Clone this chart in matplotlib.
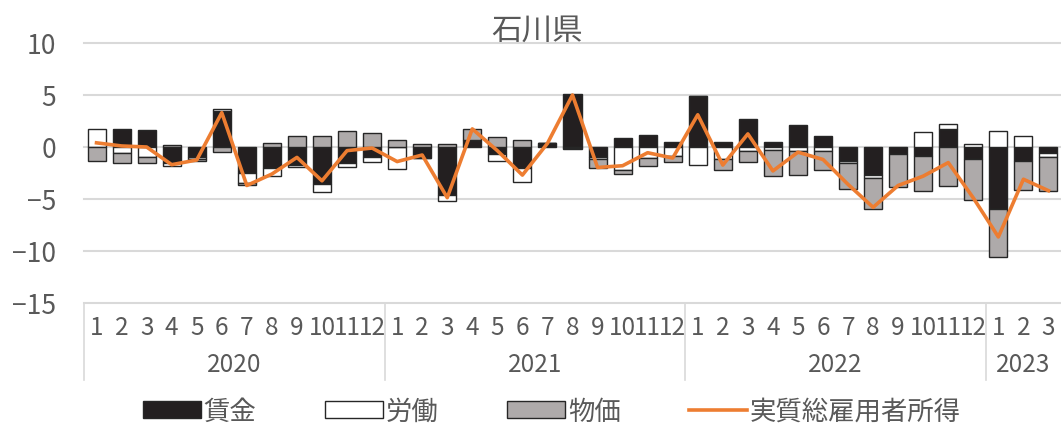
import numpy as np
import matplotlib
matplotlib.use("Agg")
import matplotlib.pyplot as plt
from matplotlib.patches import Patch
from matplotlib.lines import Line2D

plt.rcParams['font.family'] = ['Liberation Sans Narrow', 'Noto Sans CJK JP', 'DejaVu Sans']

# 寄与度（前年同月比、%ポイント）
years = ['2020', '2021', '2022', '2023']
months_per_year = [12, 12, 12, 3]

wage = [0.0, 1.7, 1.6, -1.5, -1.0, 3.5, -2.5, -2.0, -1.75, -3.6, -1.5, -0.95,
        0.0, -1.05, -4.6, 0.7, -0.68, -2.06, 0.4, 5.1, -1.0, 0.84, 1.2, 0.45,
        4.9, 0.5, 2.7, 0.45, 2.16, 1.03, -1.3, -2.7, -0.65, -0.85, 1.74, -1.16,
        -5.94, -1.3, -0.6]
labor = [1.7, -0.55, -1.0, -0.3, -0.2, 0.2, -0.95, -0.8, -0.2, -0.75, -0.4, -0.45,
         -2.1, -0.05, -0.55, 0.0, -0.68, -1.3, 0.0, -0.1, -0.2, -2.2, -1.1, -0.84,
         -1.74, -1.16, -0.4, -0.25, -0.35, -0.35, -0.25, -0.3, -0.05, 1.4, 0.48, 0.3,
         1.58, 1.03, -0.35]
price = [-1.3, -1.0, -0.55, 0.15, -0.1, -0.5, -0.2, 0.4, 1.03, 1.1, 1.5, 1.35,
         0.7, 0.3, 0.3, 1.05, 1.0, 0.7, 0.0, -0.05, -0.85, -0.35, -0.7, -0.65,
         0.0, -1.06, -1.0, -2.5, -2.35, -1.87, -2.5, -3.0, -3.1, -3.4, -3.74, -3.9,
         -4.65, -2.84, -3.3]
real_income = [0.4, 0.1, 0.0, -1.7, -1.25, 3.3, -3.7, -2.6, -1.0, -3.25, -0.35, -0.1,
               -1.4, -0.77, -4.87, 1.74, -0.35, -2.7, 0.35, 5.0, -1.97, -1.8, -0.55, -1.06,
               3.1, -1.74, 1.26, -2.3, -0.5, -1.2, -3.6, -5.8, -3.7, -2.8, -1.5, -4.9,
               -8.65, -3.1, -4.2]

month_labels = [str(m) for n in months_per_year for m in range(1, n + 1)]

text_gray = '#595959'
grid_gray = '#d9d9d9'
edge = '#262626'

fig = plt.figure(figsize=(10.61, 4.35), dpi=100)
ax = fig.add_axes([84 / 1061, 131 / 435, 977 / 1061, 260 / 435])

x = np.arange(len(wage))
ax.set_xlim(-0.5, len(wage) - 0.5)
ax.set_ylim(-15, 10)

# 横の目盛線
for yv in range(-15, 11, 5):
    ax.axhline(yv, color=grid_gray, lw=1.5, zorder=0, clip_on=False)

# 積み上げ棒（正と負は別々に積む）
pos_base = np.zeros(len(x))
neg_base = np.zeros(len(x))
series = [(wage, '#231f20'), (labor, '#ffffff'), (price, '#aeaaaa')]
for vals, color in series:
    v = np.array(vals)
    bottom = np.where(v >= 0, pos_base, neg_base)
    ax.bar(x, v, bottom=bottom, width=0.72, color=color, edgecolor=edge,
           linewidth=1.0, zorder=2)
    pos_base += np.where(v >= 0, v, 0)
    neg_base += np.where(v < 0, v, 0)

ax.plot(x, real_income, color='#ed7d31', lw=2.6, zorder=3)

for s in ax.spines.values():
    s.set_visible(False)

ax.set_yticks(range(-15, 11, 5))
ax.tick_params(axis='y', length=0, pad=20, labelsize=19, labelcolor=text_gray)
ax.set_xticks(x)
ax.set_xticklabels(month_labels)
ax.tick_params(axis='x', length=0, pad=8, labelsize=17.5, labelcolor=text_gray)

# 年のラベルと区切り線
trans = ax.get_xaxis_transform()
start = 0
for yr, n in zip(years, months_per_year):
    ax.text(start + (n - 1) / 2, -0.235, yr, transform=trans, ha='center', va='center',
            fontsize=17.5, color=text_gray)
    ax.plot([start - 0.5, start - 0.5], [0, -0.296], transform=trans, color=grid_gray,
            lw=1.2, clip_on=False)
    start += n

fig.text(537 / 1061, 0.928, '石川県', ha='center', va='center', fontsize=22,
         color=text_gray, family=['Noto Sans CJK JP'])

handles = [Patch(facecolor='#231f20', edgecolor=edge, lw=1.0),
           Patch(facecolor='#ffffff', edgecolor=edge, lw=1.0),
           Patch(facecolor='#aeaaaa', edgecolor=edge, lw=1.0),
           Line2D([], [], color='#ed7d31', lw=2.6)]
labels = ['賃金', '労働', '物価', '実質総雇用者所得']
leg = fig.legend(handles, labels, loc='center', bbox_to_anchor=(552 / 1061, 1 - 412 / 435),
                 ncol=4, frameon=False, handlelength=2.2, handleheight=0.6,
                 handletextpad=0.1, columnspacing=2.6,
                 prop={'family': 'Noto Sans CJK JP', 'size': 19})
for t in leg.get_texts():
    t.set_color(text_gray)

fig.savefig('out.png', dpi=100)
